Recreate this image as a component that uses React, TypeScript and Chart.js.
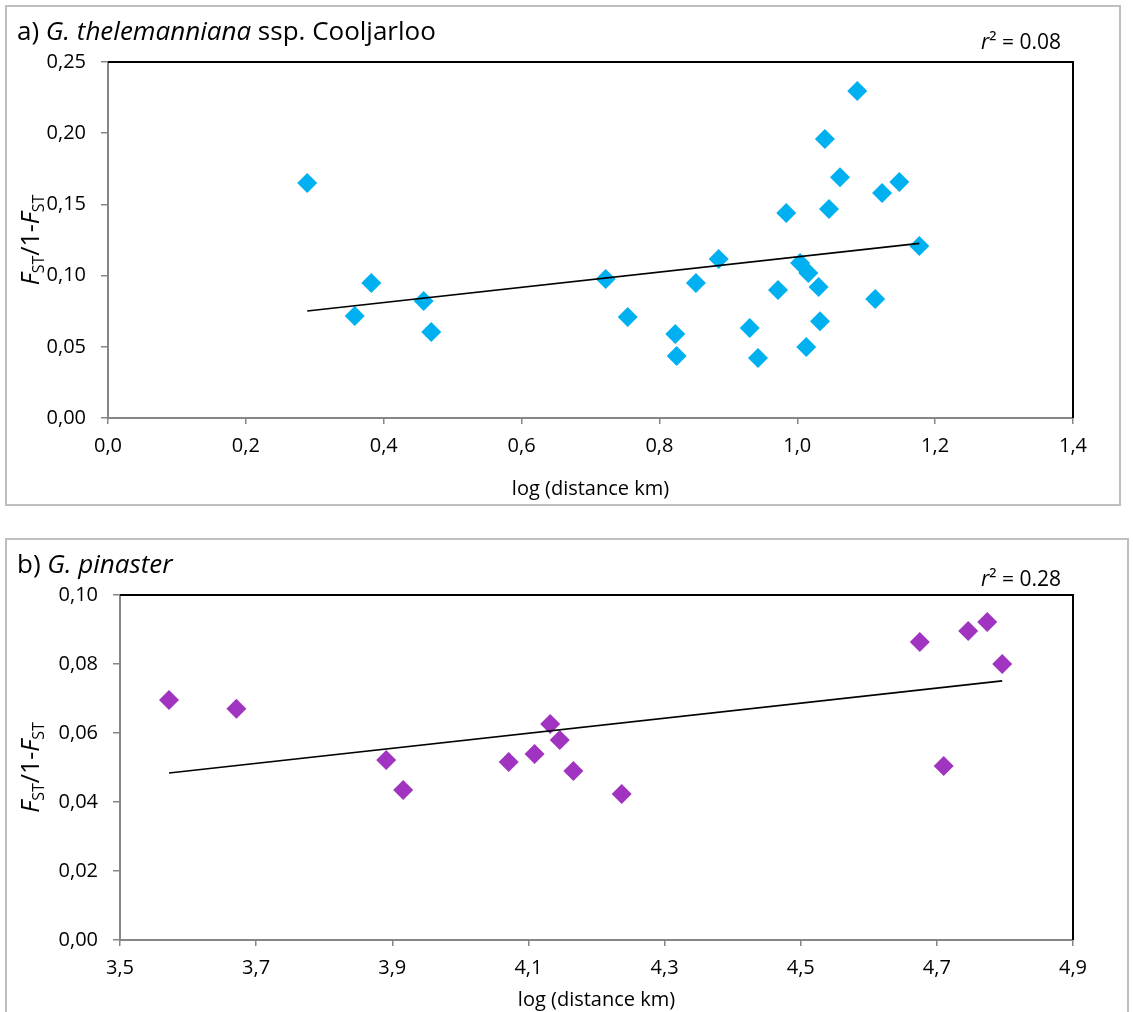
import React, { useEffect, useRef } from "react";
import { Chart, registerables } from "chart.js";

Chart.register(...registerables);

// Panel a: G. thelemanniana ssp. Cooljarloo
const distA = [0.289, 0.358, 0.382, 0.458, 0.469, 0.722, 0.754, 0.823, 0.825, 0.853, 0.886, 0.931, 0.943, 0.972, 0.984, 1.004, 1.016, 1.013, 1.031, 1.033, 1.04, 1.046, 1.062, 1.087, 1.113, 1.123, 1.148, 1.177];
const fstA = [0.165, 0.0716, 0.0948, 0.0822, 0.0604, 0.0976, 0.0709, 0.059, 0.0435, 0.0948, 0.1117, 0.0632, 0.0421, 0.0899, 0.144, 0.1088, 0.1018, 0.0499, 0.092, 0.068, 0.1959, 0.1468, 0.169, 0.2296, 0.0836, 0.158, 0.1657, 0.1208];
const trendXA = [0.289, 1.177];
const trendYA = [0.0751, 0.1226];
const xTicksA = [0, 0.2, 0.4, 0.6, 0.8, 1.0, 1.2, 1.4];
const yTicksA = [0, 0.05, 0.1, 0.15, 0.2, 0.25];

// Panel b: G. pinaster
const distB = [3.572, 3.671, 3.891, 3.916, 4.071, 4.109, 4.132, 4.146, 4.166, 4.237, 4.675, 4.71, 4.746, 4.774, 4.796];
const fstB = [0.0696, 0.067, 0.0522, 0.0435, 0.0516, 0.0539, 0.0626, 0.058, 0.049, 0.0423, 0.0864, 0.0504, 0.0896, 0.0922, 0.08];
const trendXB = [3.572, 4.796];
const trendYB = [0.0484, 0.0751];
const xTicksB = [3.5, 3.7, 3.9, 4.1, 4.3, 4.5, 4.7, 4.9];
const yTicksB = [0, 0.02, 0.04, 0.06, 0.08, 0.1];

const FONT = "'Open Sans', sans-serif";
const AXIS_GRAY = "#868686";

type TitlePart = { text: string; italic?: boolean };

type PanelSpec = {
  width: number;
  height: number;
  area: { left: number; top: number; right: number; bottom: number };
  xs: number[];
  ys: number[];
  tx: number[];
  ty: number[];
  xTicks: number[];
  yTicks: number[];
  xDec: number;
  yDec: number;
  color: string;
  title: TitlePart[];
  titleBaseline: number;
  r2: string;
  r2Baseline: number;
  xTitleY: number;
  yTitleX: number;
};

function drawRuns(ctx: CanvasRenderingContext2D, parts: { text: string; font: string; dy?: number }[], x: number, y: number) {
  let cx = x;
  for (const p of parts) {
    ctx.font = p.font;
    ctx.fillText(p.text, cx, y + (p.dy || 0));
    cx += ctx.measureText(p.text).width;
  }
  return cx - x;
}

function measureRuns(ctx: CanvasRenderingContext2D, parts: { text: string; font: string }[]) {
  let w = 0;
  for (const p of parts) {
    ctx.font = p.font;
    w += ctx.measureText(p.text).width;
  }
  return w;
}

function makeChart(canvas: HTMLCanvasElement, s: PanelSpec) {
  const fmt = (d: number) => (v: number | string) => Number(v).toFixed(d).replace(".", ",");

  const decorations = {
    id: "panelDecor",
    afterDraw(chart: Chart) {
      const ctx = chart.ctx;
      const a = chart.chartArea;
      ctx.save();
      // black frame on top and right of the plot area
      ctx.strokeStyle = "#000";
      ctx.lineWidth = 2;
      ctx.beginPath();
      ctx.moveTo(a.left, a.top);
      ctx.lineTo(a.right, a.top);
      ctx.lineTo(a.right, a.bottom);
      ctx.stroke();

      ctx.fillStyle = "#000";
      ctx.textBaseline = "alphabetic";
      ctx.textAlign = "left";

      // panel title
      drawRuns(
        ctx,
        s.title.map((p) => ({ text: p.text, font: `${p.italic ? "italic " : ""}26px ${FONT}` })),
        17,
        s.titleBaseline
      );

      // r² annotation
      const r2Parts = [
        { text: "r", font: `italic 21px ${FONT}` },
        { text: "²", font: `21px ${FONT}` },
        { text: " = " + s.r2, font: `21px ${FONT}` },
      ];
      const r2w = measureRuns(ctx, r2Parts);
      drawRuns(ctx, r2Parts, 1061 - r2w, s.r2Baseline);

      // x axis title
      ctx.font = `20px ${FONT}`;
      ctx.textAlign = "center";
      ctx.fillText("log (distance km)", (a.left + a.right) / 2, s.xTitleY);

      // y axis title: F_ST/1-F_ST
      const big = `italic 25px ${FONT}`;
      const reg = `25px ${FONT}`;
      const sub = `16px ${FONT}`;
      const yParts = [
        { text: "F", font: big },
        { text: "ST", font: sub, dy: 5 },
        { text: "/1-", font: reg },
        { text: "F", font: big },
        { text: "ST", font: sub, dy: 5 },
      ];
      const yw = measureRuns(ctx, yParts);
      ctx.translate(s.yTitleX, (a.top + a.bottom) / 2);
      ctx.rotate(-Math.PI / 2);
      ctx.textAlign = "left";
      drawRuns(ctx, yParts, -yw / 2, 0);
      ctx.restore();
    },
  };

  const tickFont = { family: FONT, size: 20 };

  return new Chart(canvas, {
    type: "scatter",
    data: {
      datasets: [
        {
          label: "trend",
          data: s.tx.map((x, i) => ({ x, y: s.ty[i] })),
          showLine: true,
          borderColor: "#000",
          borderWidth: 1.6,
          pointRadius: 0,
          order: 0,
        },
        {
          label: "pairs",
          data: s.xs.map((x, i) => ({ x, y: s.ys[i] })),
          pointStyle: "rectRot",
          pointRadius: 10,
          pointHoverRadius: 10,
          backgroundColor: s.color,
          borderWidth: 0,
          order: 1,
        },
      ],
    },
    options: {
      animation: false,
      responsive: false,
      events: [],
      layout: {
        padding: { left: 0, top: s.area.top, right: s.width - s.area.right, bottom: 0 },
      },
      plugins: { legend: { display: false }, tooltip: { enabled: false }, title: { display: false } },
      scales: {
        x: {
          type: "linear",
          position: "bottom",
          min: s.xTicks[0],
          max: s.xTicks[s.xTicks.length - 1],
          afterFit: (sc: any) => {
            sc.height = s.height - s.area.bottom;
          },
          afterBuildTicks: (sc: any) => {
            sc.ticks = s.xTicks.map((v) => ({ value: v }));
          },
          ticks: { font: tickFont, color: "#000", padding: 10, callback: fmt(s.xDec), maxRotation: 0, autoSkip: false },
          grid: { drawOnChartArea: false, drawTicks: true, tickLength: 6, color: AXIS_GRAY, lineWidth: 1.5 },
          border: { color: AXIS_GRAY, width: 2 },
        },
        y: {
          type: "linear",
          min: s.yTicks[0],
          max: s.yTicks[s.yTicks.length - 1],
          afterFit: (sc: any) => {
            sc.width = s.area.left;
          },
          afterBuildTicks: (sc: any) => {
            sc.ticks = s.yTicks.map((v) => ({ value: v }));
          },
          ticks: { font: tickFont, color: "#000", padding: 15, callback: fmt(s.yDec), autoSkip: false },
          grid: { drawOnChartArea: false, drawTicks: true, tickLength: 7, color: AXIS_GRAY, lineWidth: 1.5 },
          border: { color: AXIS_GRAY, width: 2 },
        },
      },
    } as any,
    plugins: [decorations],
  });
}

const specA: PanelSpec = {
  width: 1133,
  height: 510,
  area: { left: 108, top: 62, right: 1073, bottom: 418 },
  xs: distA,
  ys: fstA,
  tx: trendXA,
  ty: trendYA,
  xTicks: xTicksA,
  yTicks: yTicksA,
  xDec: 1,
  yDec: 2,
  color: "#00B0F0",
  title: [{ text: "a) " }, { text: "G. thelemanniana", italic: true }, { text: " ssp. Cooljarloo" }],
  titleBaseline: 40,
  r2: "0.08",
  r2Baseline: 49,
  xTitleY: 495,
  yTitleX: 39,
};

const specB: PanelSpec = {
  width: 1133,
  height: 502,
  area: { left: 120, top: 85, right: 1073, bottom: 430 },
  xs: distB,
  ys: fstB,
  tx: trendXB,
  ty: trendYB,
  xTicks: xTicksB,
  yTicks: yTicksB,
  xDec: 1,
  yDec: 2,
  color: "#A033C0",
  title: [{ text: "b) " }, { text: "G. pinaster", italic: true }],
  titleBaseline: 63,
  r2: "0.28",
  r2Baseline: 76,
  xTitleY: 496,
  yTitleX: 39,
};

function Panel({ spec, top }: { spec: PanelSpec; top: number }) {
  const ref = useRef<HTMLCanvasElement | null>(null);
  useEffect(() => {
    if (!ref.current) return;
    const chart = makeChart(ref.current, spec);
    return () => chart.destroy();
  }, [spec]);
  return (
    <canvas
      ref={ref}
      width={spec.width}
      height={spec.height}
      style={{ position: "absolute", left: 0, top, width: spec.width, height: spec.height }}
    />
  );
}

export default function App() {
  return (
    <div style={{ position: "absolute", left: 0, top: 0, width: 1133, height: 1012, overflow: "hidden", background: "#fff" }}>
      <div style={{ position: "absolute", left: 5, top: 5, width: 1116, height: 501, border: "2px solid #bfbfbf", boxSizing: "border-box" }} />
      <div style={{ position: "absolute", left: 5, top: 538, width: 1124, height: 520, border: "2px solid #bfbfbf", boxSizing: "border-box" }} />
      <Panel spec={specA} top={0} />
      <Panel spec={specB} top={510} />
    </div>
  );
}
